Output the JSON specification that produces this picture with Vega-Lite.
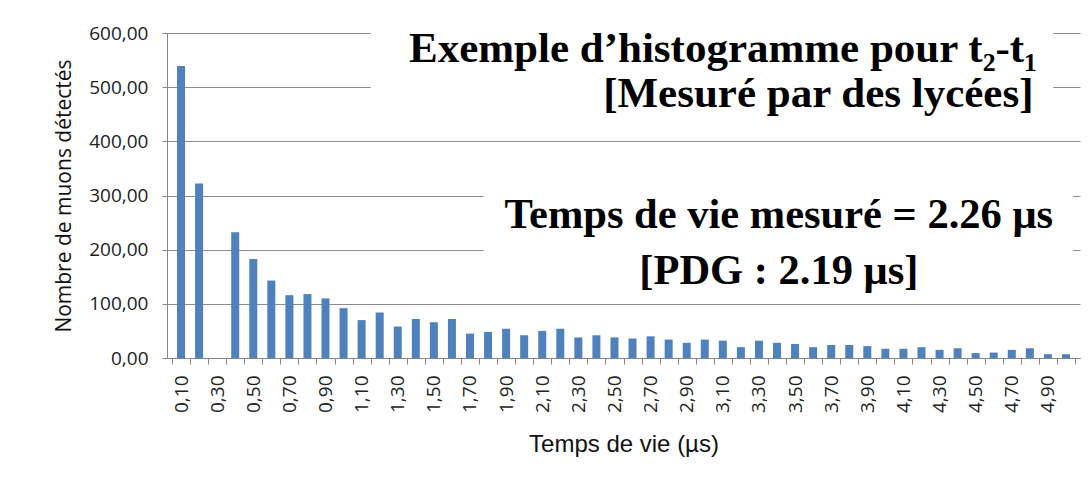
{
  "$schema": "https://vega.github.io/schema/vega-lite/v6.json",
  "width": 913,
  "height": 325,
  "autosize": {"type": "none"},
  "padding": {"left": 167, "top": 33, "right": 12, "bottom": 125},
  "background": "white",
  "config": {
    "locale": {"number": {"decimal": ",", "thousands": " ", "grouping": [3], "currency": ["", " €"]}},
    "view": {"stroke": null},
    "font": "Open Sans"
  },
  "datasets": {
    "hist": [
      {"t": 0.1, "n": 539}, {"t": 0.2, "n": 322}, {"t": 0.3, "n": 0}, {"t": 0.4, "n": 232}, {"t": 0.5, "n": 183},
      {"t": 0.6, "n": 143}, {"t": 0.7, "n": 116}, {"t": 0.8, "n": 118}, {"t": 0.9, "n": 110}, {"t": 1.0, "n": 92},
      {"t": 1.1, "n": 70}, {"t": 1.2, "n": 84}, {"t": 1.3, "n": 58}, {"t": 1.4, "n": 72}, {"t": 1.5, "n": 66},
      {"t": 1.6, "n": 72}, {"t": 1.7, "n": 45}, {"t": 1.8, "n": 48}, {"t": 1.9, "n": 54}, {"t": 2.0, "n": 42},
      {"t": 2.1, "n": 50}, {"t": 2.2, "n": 54}, {"t": 2.3, "n": 38}, {"t": 2.4, "n": 42}, {"t": 2.5, "n": 38},
      {"t": 2.6, "n": 36}, {"t": 2.7, "n": 40}, {"t": 2.8, "n": 34}, {"t": 2.9, "n": 28}, {"t": 3.0, "n": 34},
      {"t": 3.1, "n": 32}, {"t": 3.2, "n": 20}, {"t": 3.3, "n": 32}, {"t": 3.4, "n": 28}, {"t": 3.5, "n": 26},
      {"t": 3.6, "n": 20}, {"t": 3.7, "n": 24}, {"t": 3.8, "n": 24}, {"t": 3.9, "n": 22}, {"t": 4.0, "n": 17},
      {"t": 4.1, "n": 17}, {"t": 4.2, "n": 20}, {"t": 4.3, "n": 15}, {"t": 4.4, "n": 18}, {"t": 4.5, "n": 9},
      {"t": 4.6, "n": 10}, {"t": 4.7, "n": 15}, {"t": 4.8, "n": 18}, {"t": 4.9, "n": 7}, {"t": 5.0, "n": 7}
    ],
    "boxes": [
      {"x1": 1.15, "x2": 4.93, "y1": 440, "y2": 600},
      {"x1": 1.775, "x2": 5.04, "y1": 110, "y2": 330}
    ],
    "notes": [
      {"g": "r", "x": 4.84, "y": 546, "label": "Exemple d’histogramme pour t₂-t₁"},
      {"g": "r", "x": 4.82, "y": 463, "label": "[Mesuré par des lycées]"},
      {"g": "c", "x": 3.41, "y": 240, "label": "Temps de vie mesuré = 2.26 μs"},
      {"g": "c", "x": 3.41, "y": 137, "label": "[PDG : 2.19 μs]"}
    ]
  },
  "resolve": {"axis": {"x": "independent"}},
  "layer": [
    {
      "data": {"name": "hist"},
      "mark": {"type": "bar", "color": "#4f81bd", "width": 8},
      "encoding": {
        "x": {
          "field": "t", "type": "quantitative",
          "scale": {"domain": [0.05, 5.05], "nice": false, "zero": false},
          "axis": {
            "orient": "bottom",
            "title": "Temps de vie (µs)",
            "values": [0.1, 0.3, 0.5, 0.7, 0.9, 1.1, 1.3, 1.5, 1.7, 1.9, 2.1, 2.3, 2.5, 2.7, 2.9, 3.1, 3.3, 3.5, 3.7, 3.9, 4.1, 4.3, 4.5, 4.7, 4.9],
            "format": ".2f",
            "labelAngle": 270,
            "labelAlign": "right",
            "labelBaseline": "middle",
            "labelFont": "Open Sans",
            "labelFontSize": 19,
            "labelColor": "#222222",
            "labelPadding": 17,
            "ticks": false,
            "grid": false,
            "domain": true,
            "domainColor": "#868686",
            "titleFont": "Liberation Sans, Arial, sans-serif",
            "titleFontWeight": "normal",
            "titleFontSize": 24,
            "titleColor": "#111111",
            "titlePadding": 20
          }
        },
        "y": {
          "field": "n", "type": "quantitative",
          "scale": {"domain": [0, 600], "nice": false},
          "axis": {
            "title": "Nombre de muons détectés",
            "values": [0, 100, 200, 300, 400, 500, 600],
            "format": ".2f",
            "labelFont": "Open Sans",
            "labelFontSize": 19,
            "labelColor": "#222222",
            "labelPadding": 14,
            "tickSize": 5,
            "tickColor": "#868686",
            "domainColor": "#868686",
            "grid": true,
            "gridColor": "#8c8c8c",
            "titleFont": "Open Sans",
            "titleFontWeight": "normal",
            "titleFontSize": 21,
            "titleColor": "#111111",
            "titlePadding": 14
          }
        }
      }
    },
    {
      "data": {"name": "boxes"},
      "mark": {"type": "rect", "fill": "white"},
      "encoding": {
        "x": {
          "field": "x1", "type": "quantitative",
          "axis": {
            "orient": "bottom",
            "title": null,
            "values": [0.05, 0.15, 0.25, 0.35, 0.45, 0.55, 0.65, 0.75, 0.85, 0.95, 1.05, 1.15, 1.25, 1.35, 1.45, 1.55, 1.65, 1.75, 1.85, 1.95, 2.05, 2.15, 2.25, 2.35, 2.45, 2.55, 2.65, 2.75, 2.85, 2.95, 3.05, 3.15, 3.25, 3.35, 3.45, 3.55, 3.65, 3.75, 3.85, 3.95, 4.05, 4.15, 4.25, 4.35, 4.45, 4.55, 4.65, 4.75, 4.85, 4.95, 5.05],
            "labels": false,
            "domain": false,
            "grid": false,
            "ticks": true,
            "tickSize": 6,
            "tickColor": "#868686"
          }
        },
        "x2": {"field": "x2"},
        "y": {"field": "y1", "type": "quantitative"},
        "y2": {"field": "y2"}
      }
    },
    {
      "data": {"name": "notes"},
      "transform": [{"filter": "datum.g == 'r'"}],
      "mark": {"type": "text", "align": "right", "baseline": "alphabetic", "font": "Liberation Serif, Times New Roman, serif", "fontWeight": "bold", "fontSize": 43, "color": "black"},
      "encoding": {
        "x": {"field": "x", "type": "quantitative", "axis": null},
        "y": {"field": "y", "type": "quantitative"},
        "text": {"field": "label"}
      }
    },
    {
      "data": {"name": "notes"},
      "transform": [{"filter": "datum.g == 'c'"}],
      "mark": {"type": "text", "align": "center", "baseline": "alphabetic", "font": "Liberation Serif, Times New Roman, serif", "fontWeight": "bold", "fontSize": 42.5, "color": "black"},
      "encoding": {
        "x": {"field": "x", "type": "quantitative", "axis": null},
        "y": {"field": "y", "type": "quantitative"},
        "text": {"field": "label"}
      }
    }
  ]
}
